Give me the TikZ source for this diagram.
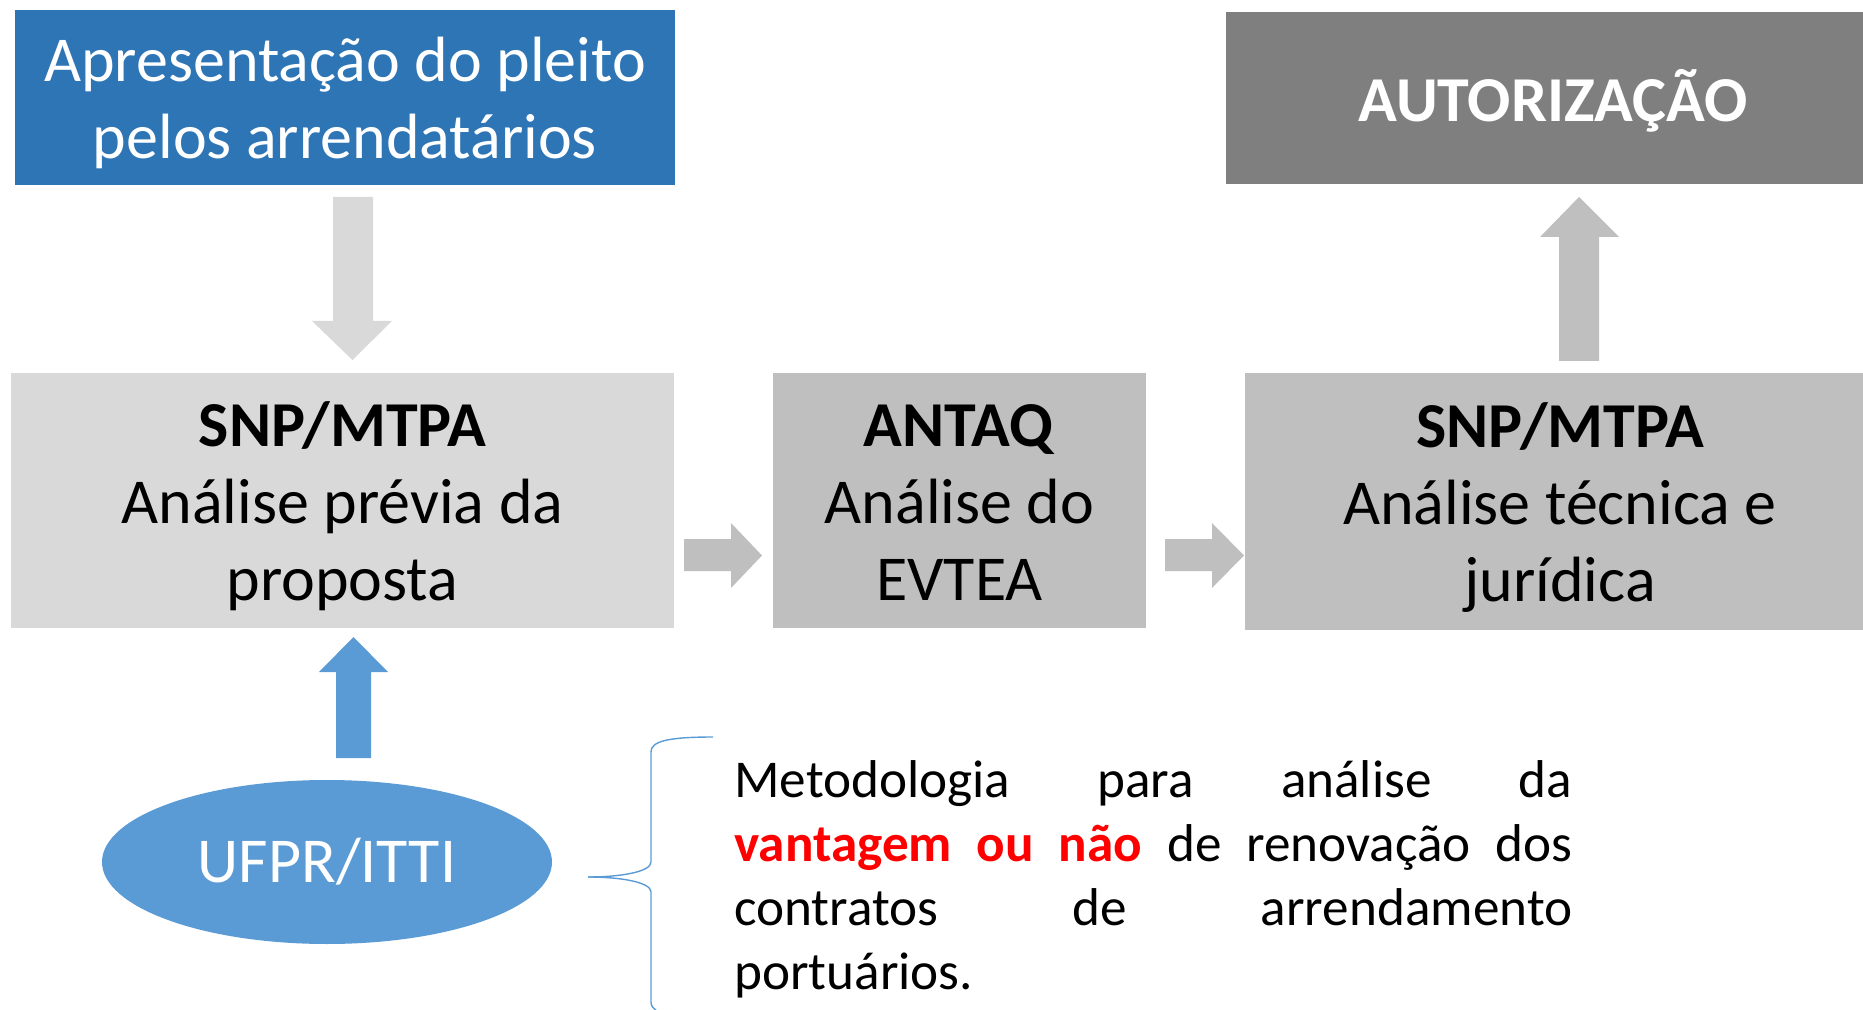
\documentclass[tikz,border=0pt]{standalone}
\usepackage{fontspec}
\setmainfont{Carlito}
\usetikzlibrary{shapes.geometric}
\definecolor{bluebox}{HTML}{2E75B6}
\definecolor{bluelight}{HTML}{5B9BD5}
\definecolor{grayA}{HTML}{D9D9D9}
\definecolor{grayB}{HTML}{BFBFBF}
\definecolor{grayC}{HTML}{7F7F7F}
\definecolor{redtxt}{HTML}{FF0000}
\begin{document}
\begin{tikzpicture}[x=0.5pt,y=-0.5pt]
\tikzset{
 box/.style={rectangle, inner sep=0pt},
 boxtext/.style={inner sep=0pt, align=center, font=\fontsize{32}{38.5}\selectfont},
 blockarrow/.style={draw=none},
 bracestyle/.style={draw=bluelight, line width=0.7pt}
}
\useasboundingbox (0,0) rectangle (1863,1010);
% boxes
\node[box, fill=bluebox, minimum width=330pt, minimum height=87.5pt,
  label={[boxtext, text=white, yshift=-2.7pt]center:{Apresentação do pleito\\pelos arrendatários}}] (pleito) at (345,97.5) {};
\node[box, fill=grayA, minimum width=331.5pt, minimum height=127.5pt,
  label={[boxtext, yshift=-3pt]center:{\textbf{SNP/MTPA}\\Análise prévia da\\proposta}}] (snp1) at (342.5,500.5) {};
\node[box, fill=grayB, minimum width=186.5pt, minimum height=127.5pt,
  label={[boxtext, yshift=-0.9pt]center:{\textbf{ANTAQ}\\Análise do\\EVTEA}}] (antaq) at (959.5,500.5) {};
\node[box, fill=grayB, minimum width=315pt, minimum height=128.5pt,
  label={[boxtext, yshift=-3pt]center:{\textbf{SNP/MTPA}\\Análise técnica e\\jurídica}}] (snp3) at (1560,501.5) {};
\node[box, fill=grayC, minimum width=327pt, minimum height=86pt,
  label={[boxtext, text=white, yshift=-1.2pt]center:{\textbf{AUTORIZAÇÃO}}}] (aut) at (1553,98) {};
\node[ellipse, fill=bluelight, text=white, inner sep=0pt, minimum width=225pt, minimum height=82pt, font=\fontsize{32}{38.5}\selectfont] (ufpr) at (327,862) {UFPR/ITTI};
% block arrows
\fill[grayA, blockarrow] (333,197) -- (373,197) -- (373,321) -- (392,321) -- (352.5,360) -- (312,321) -- (333,321) -- cycle;
\fill[bluelight, blockarrow] (336,758) -- (371,758) -- (371,672) -- (388,672) -- (353.5,637) -- (319,672) -- (336,672) -- cycle;
\fill[grayB, blockarrow] (684,539) -- (731,539) -- (731,523) -- (762,555.5) -- (731,588) -- (731,571) -- (684,571) -- cycle;
\fill[grayB, blockarrow] (1165,539) -- (1212,539) -- (1212,523) -- (1244,555.5) -- (1212,588) -- (1212,571) -- (1165,571) -- cycle;
\fill[grayB, blockarrow] (1559,361) -- (1599,361) -- (1599,237) -- (1619,237) -- (1579,197) -- (1540,237) -- (1559,237) -- cycle;
% brace
\coordinate (bracetip) at (588,877);
\draw[bracestyle] (713,737) .. controls (665,737) and (651,742) .. (651,752) -- (651,862) .. controls (651,872) and (620,877) .. (bracetip);
\draw[bracestyle] (bracetip) .. controls (620,877) and (651,882) .. (651,892) -- (651,1002) .. controls (651,1006) and (653,1008) .. (656,1010);
% text
\node[anchor=base west, inner sep=0pt, text width=419pt, align=left, font=\fontsize{26.6}{32}\selectfont] (metod) at (734,797) {%
\makebox[419pt][s]{Metodologia\hfill para\hfill análise\hfill da}\\
\makebox[419pt][s]{\textcolor{redtxt}{\bfseries vantagem\hfill\ ou\hfill\ não}\hfill\ de\hfill\ renovação\hfill\ dos}\\
\makebox[419pt][s]{contratos\hfill de\hfill arrendamento}\\
portuários.};
\end{tikzpicture}
\end{document}
